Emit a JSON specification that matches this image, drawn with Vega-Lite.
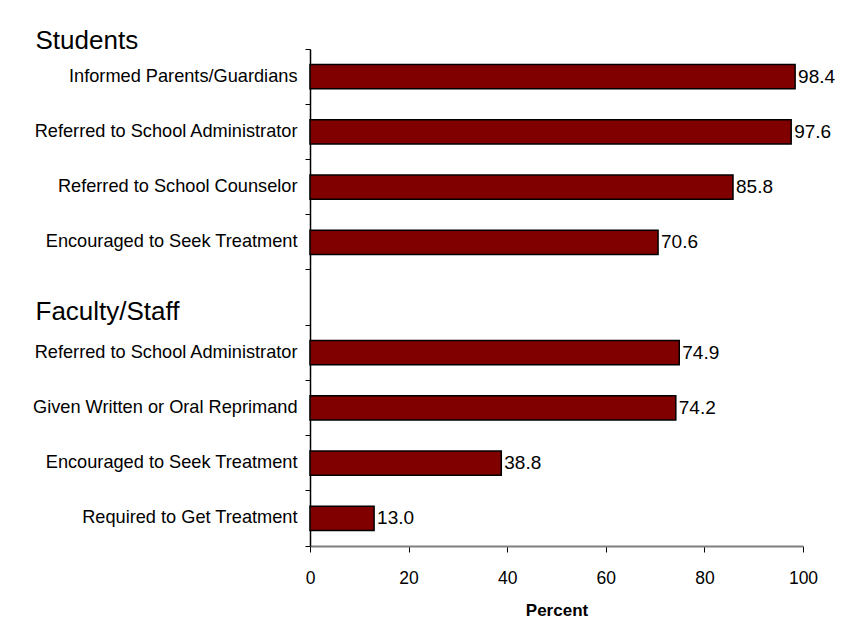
{
  "$schema": "https://vega.github.io/schema/vega-lite/v6.json",
  "autosize": "none",
  "width": 493,
  "height": 497,
  "padding": {"left": 310, "top": 49, "right": 43, "bottom": 82},
  "background": "white",
  "config": {"view": {"stroke": null}, "font": "Liberation Sans"},
  "data": {"values": [
    {"key": "Informed Parents/Guardians (Students)", "percent": 98.4},
    {"key": "Referred to School Administrator (Students)", "percent": 97.6},
    {"key": "Referred to School Counselor (Students)", "percent": 85.8},
    {"key": "Encouraged to Seek Treatment (Students)", "percent": 70.6},
    {"key": "Referred to School Administrator (Faculty/Staff)", "percent": 74.9},
    {"key": "Given Written or Oral Reprimand (Faculty/Staff)", "percent": 74.2},
    {"key": "Encouraged to Seek Treatment (Faculty/Staff)", "percent": 38.8},
    {"key": "Required to Get Treatment (Faculty/Staff)", "percent": 13.0}
  ]},
  "encoding": {
    "y": {
      "field": "key", "type": "nominal",
      "scale": {"domain": [
        "Informed Parents/Guardians (Students)",
        "Referred to School Administrator (Students)",
        "Referred to School Counselor (Students)",
        "Encouraged to Seek Treatment (Students)",
        "Faculty/Staff",
        "Referred to School Administrator (Faculty/Staff)",
        "Given Written or Oral Reprimand (Faculty/Staff)",
        "Encouraged to Seek Treatment (Faculty/Staff)",
        "Required to Get Treatment (Faculty/Staff)"
      ], "paddingInner": 0, "paddingOuter": 0},
      "axis": {
        "title": "Students",
        "titleAngle": 0, "titleAlign": "left", "titleBaseline": "alphabetic",
        "titleX": -275, "titleY": -1,
        "titleFont": "Liberation Sans", "titleFontSize": 26, "titleFontWeight": "normal", "titleColor": "black",
        "labelExpr": "replace(replace(datum.label, ' (Students)', ''), ' (Faculty/Staff)', '')",
        "labelFontSize": {"condition": {"test": "datum.value == 'Faculty/Staff'", "value": 26}, "value": 18.2},
        "labelAlign": {"condition": {"test": "datum.value == 'Faculty/Staff'", "value": "left"}, "value": "right"},
        "labelPadding": {"condition": {"test": "datum.value == 'Faculty/Staff'", "value": 270}, "value": 8},
        "labelBaseline": {"condition": {"test": "datum.value == 'Faculty/Staff'", "value": "alphabetic"}, "value": "middle"},
        "labelOffset": {"condition": {"test": "datum.value == 'Faculty/Staff'", "value": 22}, "value": 0},
        "labelColor": "black",
        "labelLimit": 0,
        "bandPosition": 1,
        "tickExtra": true,
        "tickSize": 5,
        "tickColor": "black",
        "domainColor": "black",
        "domainWidth": 1.5
      }
    },
    "x": {
      "field": "percent", "type": "quantitative",
      "scale": {"domain": [0, 100], "nice": false},
      "axis": {
        "title": "Percent",
        "titleFont": "Liberation Sans", "titleFontSize": 17, "titleFontWeight": "bold", "titleColor": "black",
        "titlePadding": 16,
        "values": [0, 20, 40, 60, 80, 100],
        "grid": false,
        "labelFontSize": 17.5, "labelColor": "black", "labelPadding": 17,
        "labelFlush": false,
        "tickSize": 6, "tickColor": "black",
        "domainColor": "#7f7f7f", "domainWidth": 2
      }
    }
  },
  "layer": [
    {"mark": {"type": "bar", "color": "#800000", "stroke": "black", "strokeWidth": 1.5, "height": {"band": 0.44}}},
    {"mark": {"type": "text", "align": "left", "baseline": "middle", "dx": 3, "fontSize": 19, "color": "black"},
     "encoding": {"text": {"field": "percent", "type": "quantitative", "format": ".1f"}}}
  ]
}
